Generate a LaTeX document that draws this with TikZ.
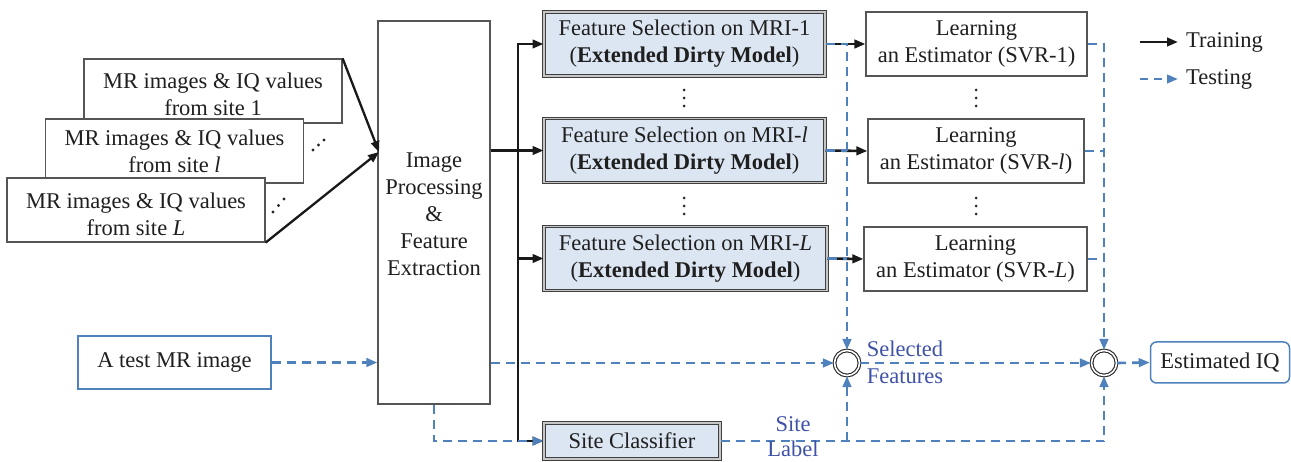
\documentclass[tikz,border=0pt]{standalone}
\usepackage{fontspec}
\setmainfont{LiberationSerif}[Extension=.ttf, UprightFont=*-Regular, BoldFont=*-Bold, ItalicFont=*-Italic, BoldItalicFont=*-BoldItalic]
\usetikzlibrary{arrows.meta,calc}
\definecolor{bl}{HTML}{4F81BD}
\definecolor{lbl}{HTML}{3F52A8}
\definecolor{fsfill}{HTML}{DCE6F2}
\definecolor{bd}{HTML}{555555}
\begin{document}
\begin{tikzpicture}[x=1pt,y=-1pt,
  every node/.style={font=\rmfamily\fontsize{22.5}{27}\selectfont, text=black!88, inner sep=0pt, align=center},
  plain/.style={draw=bd, line width=1.2pt, fill=white, minimum height=64pt},
  sitebox/.style={plain, minimum width=258pt},
  fsbox/.style={draw=black!75, line width=1pt, double=gray!45, double distance=1.6pt, fill=fsfill, minimum height=64pt, minimum width=281pt},
  lnbox/.style={plain},
  bluebox/.style={draw=bl, line width=1.5pt, fill=white},
  sumnode/.style={circle, draw=black!85, line width=1.1pt, double=white, double distance=1.6pt, minimum size=25pt},
  arr/.style={-{Triangle[length=11pt,width=8.5pt]}},
  train/.style={draw=black!90, line width=2.6pt},
  test/.style={draw=bl, line width=2.6pt, dash pattern=on 9pt off 6pt},
  lab/.style={text=lbl},
  dotf/.style={fill=black!85}
]
\useasboundingbox (0,0) rectangle (1291,462);

% stacked site boxes
\node[sitebox] (b1) at (213,91) {};
\node at (213,94) {MR images \& IQ values\\from site 1};
\node[sitebox] (b2) at (174.5,151) {MR images \& IQ values\\from site \textit{l}};
\node[sitebox] (b3) at (136,210) {};
\node at (136,214) {MR images \& IQ values\\from site \textit{L}};

% diagonal dots
\foreach \p in {(313,150),(318.5,145),(324,140),(273,212),(278.5,205.5),(284,199)}
  \fill[dotf] \p circle (1.6pt);

% image processing box
\node[plain, minimum width=112pt, minimum height=383pt] (ip) at (434,212.5) {};
\node at (434,214) {Image\\Processing\\\&\\Feature\\Extraction};
\coordinate (ipin) at (379,152);
\draw[train, line width=2.3pt, arr] (b1.north east) -- (ipin);
\draw[train, line width=2.3pt, arr] (b3.south east) -- (ipin);

% feature selection boxes
\node[fsbox] (fs1) at (684.5,44) {Feature Selection on MRI-1\\(\textbf{Extended Dirty Model})};
\node[fsbox] (fsl) at (684.5,150.5) {Feature Selection on MRI-\textit{l}\\(\textbf{Extended Dirty Model})};
\node[fsbox, minimum width=283pt] (fsL) at (685.5,258.5) {Feature Selection on MRI-\textit{L}\\(\textbf{Extended Dirty Model})};

% learning boxes
\node[lnbox, minimum width=221pt] (l1) at (976.5,44) {Learning\\an Estimator (SVR-1)};
\node[lnbox, minimum width=216pt] (ll) at (976,151) {Learning\\an Estimator (SVR-\textit{l})};
\node[lnbox, minimum width=223pt] (lL) at (975.5,259) {Learning\\an Estimator (SVR-\textit{L})};

% vertical dots
\foreach \x in {684,976}
  \foreach \y in {90,98,106,198,206,214}
    \fill[dotf] (\x,\y) circle (1.5pt);

% bottom row
\node[bluebox, minimum width=193pt, minimum height=53pt] (test) at (174.5,362.5) {A test MR image};
\node[fsbox, minimum width=176pt, minimum height=36pt] (sc) at (632,441) {Site Classifier};
\node[sumnode] (c1) at (847,363) {};
\node[sumnode] (c2) at (1104,363) {};
\node[bluebox, rounded corners=6pt, minimum width=139pt, minimum height=41pt] (est) at (1220,362.5) {Estimated IQ};

% training connectors
\coordinate (bus) at (518,0);
\draw[train, arr] (ip.east |- fsl.west) -- (fsl.west);
\draw[train, arr] (bus |- fsl.west) |- (fs1.west);
\draw[train, arr] (bus |- fsl.west) |- (fsL.west);
\draw[train, arr] (bus |- fsl.west) |- (sc.west);
\draw[train, arr] (fs1.east) -- (l1.west);
\draw[train, arr] (fsl.east) -- (ll.west);
\draw[train, arr] (fsL.east) -- (lL.west);

% testing connectors
\draw[test, arr] (test.east) -- (test.east -| ip.west);
\draw[test, arr] (ip.east |- c1.west) -- (c1.west);
\draw[test, arr] (ip.south) |- (sc.west);
\draw[test, arr] (fs1.east) -- (c1 |- fs1.east) -- (c1.north);
\draw[test] (fsl.east) -- (c1 |- fsl.east);
\draw[test] (fsL.east) -- (c1 |- fsL.east);
\draw[test, arr] (l1.east) -- (c2 |- l1.east) -- (c2.north);
\draw[test] (ll.east) -- (c2 |- ll.east);
\draw[test] (lL.east) -- (c2 |- lL.east);
\draw[test, arr] (sc.east) -- (c2 |- sc.east) -- (c2.south);
\draw[test, arr] (c1 |- sc.east) -- (c1.south);
\draw[test, arr] (c1.east) -- (c2.west);
\draw[test, arr] (c2.east) -- (est.west);

% labels
\node[lab] (selfeat) at (905,362) {Selected\\Features};
\node[lab, font=\rmfamily\fontsize{22.5}{25}\selectfont] (sitelab) at (793,437) {Site\\Label};

% legend
\coordinate (lt1) at (1140,42);
\coordinate (lt2) at (1178,42);
\coordinate (ls1) at (1140,79);
\coordinate (ls2) at (1178,79);
\draw[train, arr] (lt1) -- (lt2);
\draw[test, dash pattern=on 8pt off 6pt, arr] (ls1) -- (ls2);
\node[anchor=west] (legtr) at (1186,42) {Training};
\node[anchor=west] (legte) at (1186,79) {Testing};
\end{tikzpicture}
\end{document}
